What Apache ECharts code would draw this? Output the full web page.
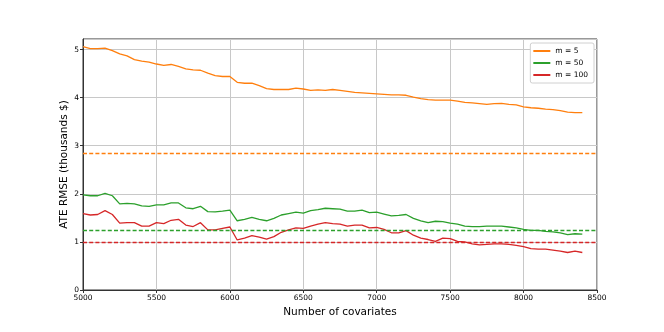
<!DOCTYPE html>
<html>
<head>
<meta charset="utf-8">
<script src="https://cdn.jsdelivr.net/npm/echarts@6/dist/echarts.min.js"></script>
<style>
  html, body { margin: 0; padding: 0; background: #fff; }
  #main { width: 664px; height: 332px; }
</style>
</head>
<body>
<div id="main"></div>
<script>
// number of covariates (x)
const covariates = [
  5000, 5050, 5100, 5150, 5200, 5250, 5300, 5350, 5400, 5450, 5500, 5550, 5600, 5650, 5700, 5750,
  5800, 5850, 5900, 5950, 6000, 6050, 6100, 6150, 6200, 6250, 6300, 6350, 6400, 6450, 6500, 6550,
  6600, 6650, 6700, 6750, 6800, 6850, 6900, 6950, 7000, 7050, 7100, 7150, 7200, 7250, 7300, 7350,
  7400, 7450, 7500, 7550, 7600, 7650, 7700, 7750, 7800, 7850, 7900, 7950, 8000, 8050, 8100, 8150,
  8200, 8250, 8300, 8350, 8400
]

// ATE RMSE, thousands $
const rmseM5 = [
  5.06, 5.02, 5.02, 5.03, 4.98, 4.91, 4.87, 4.79, 4.76, 4.74, 4.70, 4.67, 4.69, 4.65, 4.60, 4.58,
  4.57, 4.51, 4.46, 4.44, 4.44, 4.32, 4.30,
  4.30, 4.25, 4.19, 4.17, 4.17, 4.17, 4.20, 4.18, 4.15, 4.16, 4.15, 4.17, 4.15, 4.13, 4.11, 4.10,
  4.09, 4.08, 4.07, 4.06, 4.06, 4.05,
  4.01, 3.98, 3.96, 3.95, 3.95, 3.95, 3.93, 3.90, 3.89, 3.875, 3.86, 3.875, 3.88, 3.86, 3.85, 3.81,
  3.79, 3.78, 3.76, 3.75, 3.73, 3.70, 3.69, 3.69
]
const rmseM50 = [
  1.98, 1.96, 1.96, 2.01, 1.96, 1.79, 1.80, 1.79, 1.75, 1.74, 1.77, 1.77, 1.81, 1.81, 1.71, 1.69,
  1.74, 1.63, 1.625, 1.64, 1.66, 1.44, 1.47,
  1.51, 1.47, 1.44, 1.49, 1.56, 1.59, 1.62, 1.60, 1.65, 1.67, 1.70, 1.69, 1.68, 1.64, 1.64, 1.66,
  1.61, 1.62, 1.58, 1.54, 1.55, 1.57,
  1.49, 1.44, 1.40, 1.43, 1.42, 1.39, 1.37, 1.33, 1.32, 1.32, 1.33, 1.33, 1.33, 1.31, 1.29, 1.26,
  1.24, 1.24, 1.22, 1.21, 1.19, 1.15, 1.17, 1.16
]
const rmseM100 = [
  1.59, 1.56, 1.57, 1.65, 1.57, 1.39, 1.40, 1.40, 1.33, 1.33, 1.40, 1.38, 1.45, 1.47, 1.35, 1.32,
  1.40, 1.25, 1.25, 1.28, 1.31, 1.04, 1.08,
  1.13, 1.10, 1.06, 1.11, 1.20, 1.25, 1.29, 1.28, 1.33, 1.37, 1.40, 1.38, 1.37, 1.33, 1.35, 1.35,
  1.29, 1.30, 1.26, 1.19, 1.19, 1.235,
  1.14, 1.08, 1.05, 1.01, 1.08, 1.07, 1.01, 1.00, 0.96, 0.94, 0.95, 0.96, 0.96, 0.95, 0.93, 0.90,
  0.86, 0.85, 0.85, 0.83, 0.81, 0.78, 0.81, 0.78
]

// dashed reference levels, one per series
const baselines = [2.85, 1.25, 1.0]
const seriesNames = ['m = 5', 'm = 50', 'm = 100']
const seriesColors = ['#ff7f0e', '#2ca02c', '#d62728']

const FONT = 'DejaVu Sans'

function pairs(values) {
  return values.map((v, i) => [covariates[i], v])
}

function initChart() {
  const chart = echarts.init(document.getElementById('main'), null, { renderer: 'canvas' })
  const allValues = [rmseM5, rmseM50, rmseM100]

  const series = allValues.map((values, i) => ({
    name: seriesNames[i],
    type: 'line',
    data: pairs(values),
    showSymbol: false,
    symbol: 'none',
    lineStyle: { color: seriesColors[i], width: 1.3 },
    itemStyle: { color: seriesColors[i] },
    animation: false,
    markLine: {
      silent: true,
      symbol: 'none',
      label: { show: false },
      lineStyle: { color: seriesColors[i], type: [4, 2.2], width: 1.3 },
      data: [{ yAxis: baselines[i] }],
      animation: false,
    },
  }))

  const option = {
    backgroundColor: '#fff',
    animation: false,
    textStyle: { fontFamily: FONT },
    grid: {
      left: 83,
      right: 67,
      top: 39,
      bottom: 42,
      show: true,
      borderColor: '#333',
      borderWidth: 1,
    },
    legend: {
      orient: 'vertical',
      right: 70,
      top: 43,
      data: seriesNames,
      icon: 'rect',
      itemWidth: 17,
      itemHeight: 2,
      itemGap: 4,
      padding: [4, 6, 4, 3],
      backgroundColor: '#fff',
      borderColor: '#d0d0d0',
      borderWidth: 1,
      borderRadius: 2,
      textStyle: { fontFamily: FONT, fontSize: 7.5, color: '#000' },
    },
    xAxis: {
      type: 'value',
      min: 5000,
      max: 8500,
      interval: 500,
      name: 'Number of covariates',
      nameLocation: 'middle',
      nameGap: 15,
      nameTextStyle: { fontFamily: FONT, fontSize: 10.5, color: '#000' },
      axisLine: { show: true, onZero: false, lineStyle: { color: '#333', width: 1 } },
      axisTick: { show: true, length: 3, lineStyle: { color: '#333' } },
      axisLabel: {
        fontFamily: FONT,
        fontSize: 7.5,
        color: '#000',
        margin: 4,
        formatter: (v) => String(v),
      },
      splitLine: { show: true, lineStyle: { color: '#c8c8c8', width: 1 } },
    },
    yAxis: {
      type: 'value',
      min: 0,
      max: 5.22,
      interval: 1,
      name: 'ATE RMSE (thousands $)',
      nameLocation: 'middle',
      nameGap: 13,
      nameMoveOverlap: false,
      nameTextStyle: { fontFamily: FONT, fontSize: 10.5, color: '#000' },
      axisLine: { show: true, lineStyle: { color: '#333', width: 1 } },
      axisTick: { show: true, length: 3, lineStyle: { color: '#333' } },
      axisLabel: { fontFamily: FONT, fontSize: 7.5, color: '#000', margin: 4, showMaxLabel: false },
      splitLine: { show: true, lineStyle: { color: '#c8c8c8', width: 1 } },
    },
    series,
  }

  chart.setOption(option)
}

initChart()
</script>
</body>
</html>
